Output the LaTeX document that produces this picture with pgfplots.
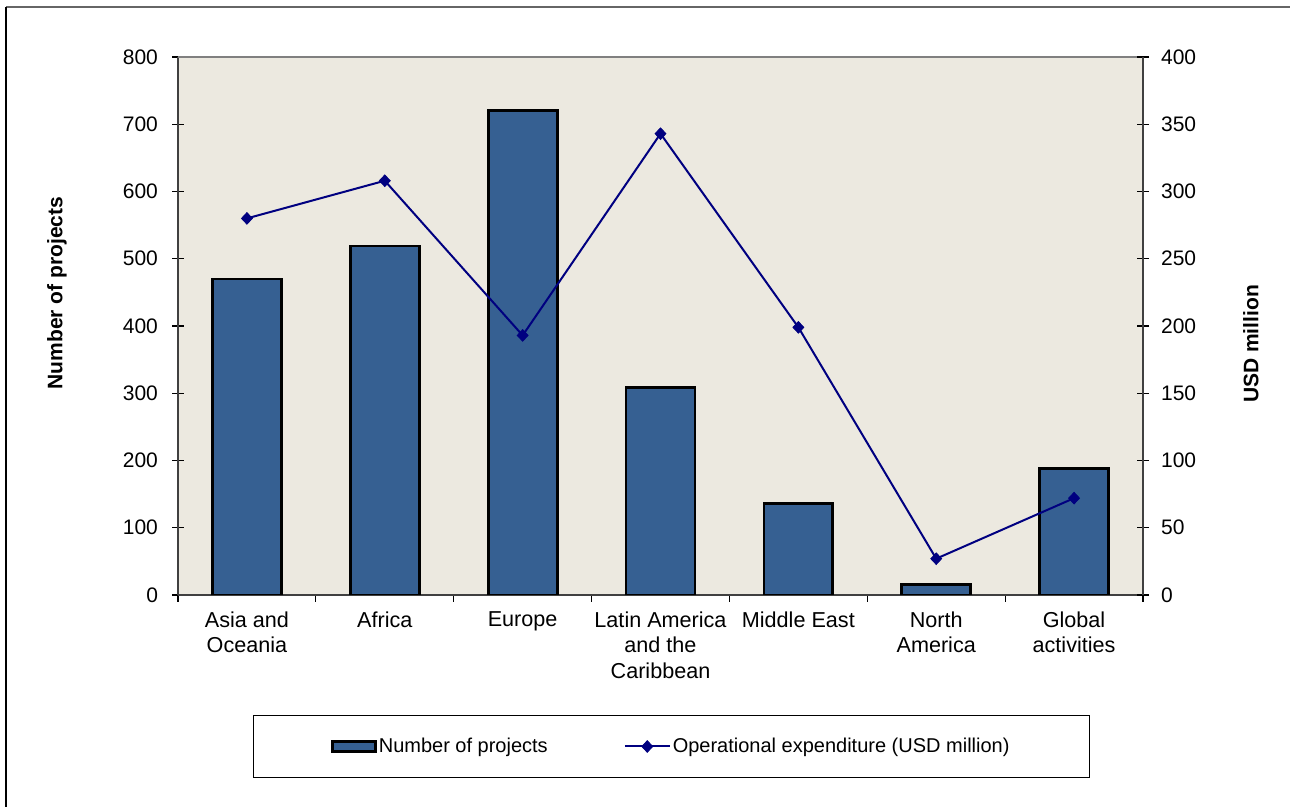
\documentclass[border=0pt]{standalone}
\usepackage{pgfplots}
\pgfplotsset{compat=1.18}
\usepackage{fontspec}
\setmainfont{Liberation Sans}

\definecolor{barblue}{RGB}{54,96,146}
\definecolor{plotbg}{RGB}{236,233,224}
\definecolor{linenavy}{RGB}{0,0,128}

\pgfplotsset{
  common/.style={
    scale only axis,
    width=482.5pt, height=269pt,
    at={(89pt,106pt)}, anchor=south west,
    xmin=-0.5, xmax=6.5,
    major tick length=6pt,
    tick style={black, line width=0.6pt},
    axis line style={black!75, line width=0.6pt},
    tick label style={font=\fontsize{10.5}{12.5}\selectfont},
    /pgf/number format/assume math mode=true,
  },
  diamond legend/.style={
    legend image code/.code={\draw[mark repeat=2,mark phase=2,##1] plot coordinates {(0pt,0pt) (11.25pt,0pt) (22.5pt,0pt)};}
  },
}

\begin{document}
\begin{tikzpicture}
\useasboundingbox (0,0) rectangle (645pt,403.5pt);
% chart frame
\draw[black!60, line width=0.8pt] (3pt,400pt) -- (660pt,400pt);
\draw[black, line width=0.8pt] (3pt,400pt) -- (3pt,-10pt);

% number of projects (bars, left axis)
\begin{axis}[common,
  ymin=0, ymax=800, ytick={0,100,...,800},
  axis x line*=bottom, axis y line*=left,
  ytick align=center,
  axis background/.style={fill=plotbg},
  xtick={-0.5,0.5,...,6.5},
  x tick label as interval,
  xticklabels={{Asia and\\Oceania},{Africa},{Europe},{Latin America\\and the\\Caribbean},{Middle East},{North\\America},{Global\\activities},{}},
  xtick align=outside,
  x tick style={/pgfplots/major tick length=3.5pt},
  xticklabel style={align=center, font=\fontsize{10.8}{12.6}\selectfont, yshift=1pt},
  yticklabel style={xshift=-3.5pt},
  ylabel={Number of projects},
  every axis y label/.style={at={(rel axis cs:-0.1254,0.5613)}, rotate=90, anchor=center,
    font=\bfseries\fontsize{10.5}{12}\selectfont},
  after end axis/.code={\draw[black!50, line width=0.6pt] (rel axis cs:0,1) -- (rel axis cs:1,1);},
]
\addplot[ybar, bar width=0.5, fill=barblue, draw=black, line width=1.4pt]
  coordinates {(0,470) (1,519) (2,720) (3,308) (4,136) (5,16) (6,188)};
\end{axis}

% operational expenditure (line, right axis)
\begin{axis}[common,
  ymin=0, ymax=400, ytick={0,50,...,400},
  axis y line*=right, axis x line=none,
  ytick align=center,
  yticklabel style={xshift=2.5pt},
  ylabel={USD million},
  every axis y label/.style={at={(rel axis cs:1.1119,0.4665)}, rotate=90, anchor=center,
    font=\bfseries\fontsize{10.5}{12}\selectfont},
  legend columns=2,
  legend style={at={(rel axis cs:0.5114,-0.2816)}, anchor=center,
    draw=black, line width=0.6pt, fill=white,
    inner xsep=39pt, inner ysep=10pt,
    font=\fontsize{10}{12}\selectfont,
    nodes={inner sep=1pt},
    /tikz/every even column/.append style={column sep=37pt}},
]
\addlegendimage{legend image code/.code={\draw[fill=barblue, draw=black, line width=1.2pt] (0pt,-2.5pt) rectangle (21.5pt,2.5pt);}}
\addlegendentry{Number of projects}
\addplot[linenavy, line width=1pt, mark=diamond*, mark size=2.9pt,
  mark options={fill=linenavy, draw=linenavy, line width=0.4pt, xscale=1.25},
  diamond legend]
  coordinates {(0,280) (1,308) (2,193) (3,343) (4,199) (5,27) (6,72)};
\addlegendentry{Operational expenditure (USD million)}
\end{axis}
\end{tikzpicture}
\end{document}
